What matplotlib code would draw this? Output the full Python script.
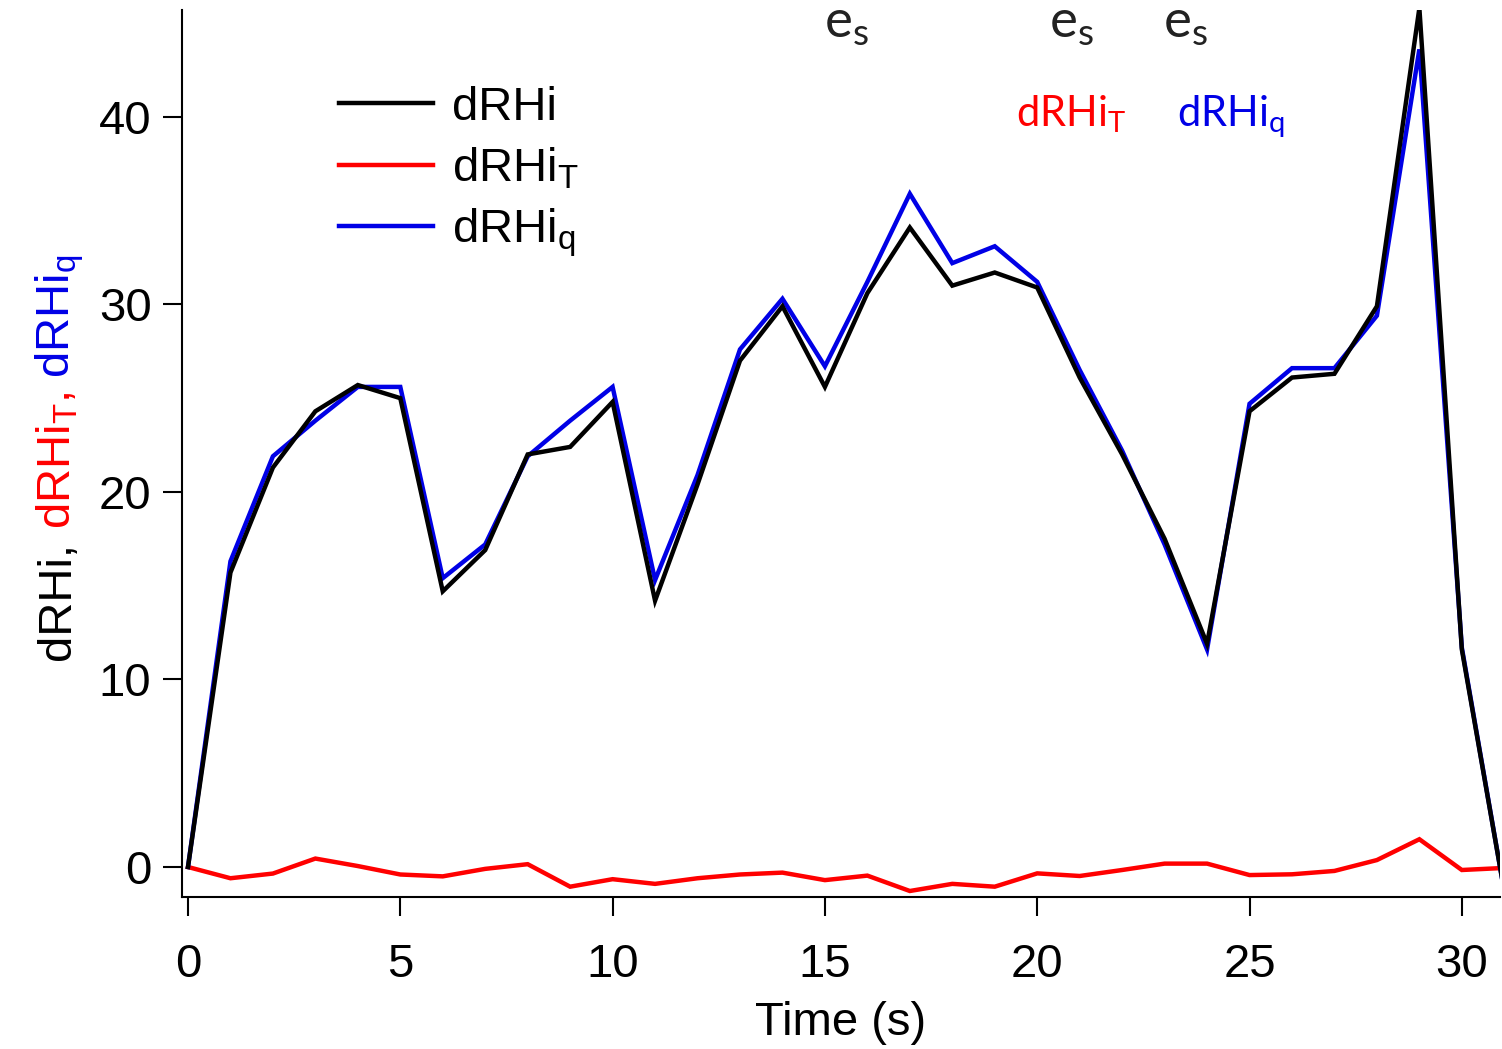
import numpy as np
import matplotlib
matplotlib.use("Agg")
import matplotlib.pyplot as plt
from matplotlib.lines import Line2D

plt.rcParams['font.family'] = ['Liberation Sans', 'DejaVu Sans']
plt.rcParams['mathtext.default'] = 'regular'

# time axis (s)
time_s = np.arange(0, 32)

# total humidity derivative and its temperature / moisture parts
drhi = [0.0, 15.7, 21.3, 24.3, 25.7, 25.0, 14.7, 16.9, 22.0, 22.4,
        24.8, 14.2, 20.4, 27.0, 29.9, 25.6, 30.6, 34.1, 31.0, 31.7,
        30.9, 26.1, 22.0, 17.5, 11.9, 24.3, 26.1, 26.3, 29.9, 45.8,
        11.6, -1.3]
drhi_t = [0.0, -0.6, -0.35, 0.45, 0.05, -0.4, -0.5, -0.1, 0.15, -1.05,
          -0.65, -0.9, -0.6, -0.4, -0.3, -0.7, -0.46, -1.28, -0.9, -1.05,
          -0.34, -0.48, -0.16, 0.18, 0.18, -0.43, -0.39, -0.21, 0.37, 1.48,
          -0.16, -0.05]
drhi_q = [0.0, 16.3, 21.9, 23.8, 25.6, 25.6, 15.4, 17.2, 21.9, 23.8,
          25.6, 15.3, 20.9, 27.6, 30.3, 26.7, 31.2, 35.9, 32.2, 33.1,
          31.2, 26.5, 22.2, 17.2, 11.6, 24.7, 26.6, 26.6, 29.4, 43.6,
          11.7, -1.3]

# event markers along the top
event_t = [15.5, 20.8, 23.5]

C_BLACK = '#000000'
C_RED = '#ff0000'
C_BLUE = '#0000e6'
FS = 34
NOTE_FONT = ['Lato', 'DejaVu Sans']

fig = plt.figure(figsize=(15.02, 10.49), dpi=100)
ax = fig.add_axes([0.1212, 0.1449, 0.8775, 0.8456])

ax.plot(time_s, drhi_t, color=C_RED, lw=3.2, solid_joinstyle='miter')
ax.plot(time_s, drhi_q, color=C_BLUE, lw=3.2, solid_joinstyle='miter')
ax.plot(time_s, drhi, color=C_BLACK, lw=3.2, solid_joinstyle='miter')

ax.set_xlim(-0.14, 30.9)
ax.set_ylim(-1.6, 45.7)
ax.set_xticks([0, 5, 10, 15, 20, 25, 30])
ax.set_yticks([0, 10, 20, 30, 40])
for side in ('top', 'right'):
    ax.spines[side].set_visible(False)
for side in ('left', 'bottom'):
    ax.spines[side].set_linewidth(1.5)
ax.tick_params(axis='both', direction='out', length=14, width=1.5,
               labelsize=FS)
ax.tick_params(axis='x', pad=19)
ax.tick_params(axis='y', pad=8)
ax.set_xlabel('Time (s)', fontsize=FS, labelpad=10)

# legend
handles = [Line2D([], [], color=C_BLACK, lw=3.2),
           Line2D([], [], color=C_RED, lw=3.2),
           Line2D([], [], color=C_BLUE, lw=3.2)]
labels = ['dRHi', r'dRHi$_{T}$', r'dRHi$_{q}$']
ax.legend(handles, labels, loc='upper left', bbox_to_anchor=(0.2256, 0.918),
          bbox_transform=fig.transFigure, frameon=False, fontsize=FS,
          handlelength=2.0, handletextpad=0.4, labelspacing=0.33,
          borderpad=0, borderaxespad=0)

# annotations along the top
for t in event_t:
    ax.text(t, 44.2, r'e$_{s}$', fontsize=38, color='#222222',
            family=NOTE_FONT, ha='center', va='baseline', clip_on=False)
ax.text(19.5, 39.5, r'dRHi$_{T}$', fontsize=30, color=C_RED,
        family=NOTE_FONT, ha='left', va='baseline')
ax.text(23.3, 39.5, r'dRHi$_{q}$', fontsize=30, color=C_BLUE,
        family=NOTE_FONT, ha='left', va='baseline')

# multi-coloured y label, stacked bottom to top
fig.canvas.draw()
renderer = fig.canvas.get_renderer()
pieces = [('dRHi,', C_BLACK), (r'dRHi$_{T}$,', C_RED), (r'dRHi$_{q}$', C_BLUE)]
gap_px = 13
y_px = 1049 - 660
x_px = 70
for txt, col in pieces:
    t = fig.text(x_px / 1502, y_px / 1049, txt, color=col, fontsize=FS,
                 rotation=90, rotation_mode='anchor', ha='left',
                 va='baseline')
    bb = t.get_window_extent(renderer)
    y_px += bb.height + gap_px

fig.savefig('out.png', dpi=100)
